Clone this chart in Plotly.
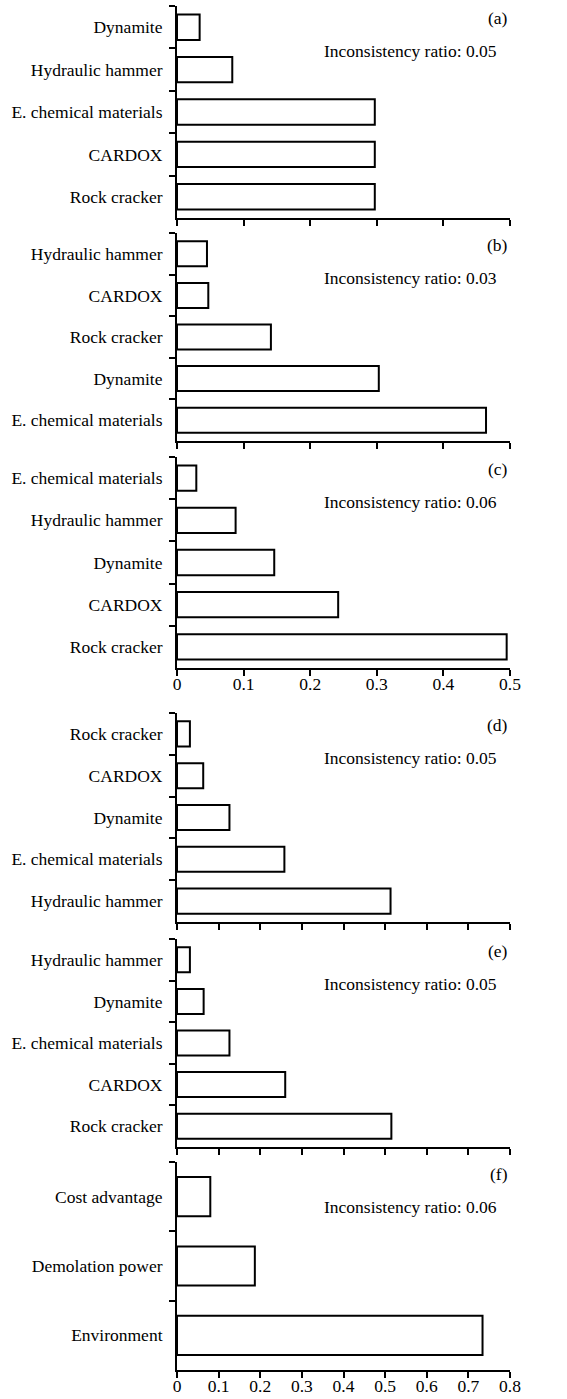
import plotly.graph_objects as go

W, H = 567, 1399

# Panel data (categories listed top-to-bottom as in the figure)
cats_a = ["Dynamite", "Hydraulic hammer", "E. chemical materials", "CARDOX", "Rock cracker"]
vals_a = [0.034, 0.083, 0.297, 0.297, 0.297]

cats_b = ["Hydraulic hammer", "CARDOX", "Rock cracker", "Dynamite", "E. chemical materials"]
vals_b = [0.045, 0.047, 0.141, 0.303, 0.464]

cats_c = ["E. chemical materials", "Hydraulic hammer", "Dynamite", "CARDOX", "Rock cracker"]
vals_c = [0.029, 0.088, 0.146, 0.242, 0.495]

cats_d = ["Rock cracker", "CARDOX", "Dynamite", "E. chemical materials", "Hydraulic hammer"]
vals_d = [0.031, 0.063, 0.126, 0.258, 0.513]

cats_e = ["Hydraulic hammer", "Dynamite", "E. chemical materials", "CARDOX", "Rock cracker"]
vals_e = [0.031, 0.064, 0.126, 0.260, 0.515]

cats_f = ["Cost advantage", "Demolation power", "Environment"]
vals_f = [0.080, 0.187, 0.734]

panel_labels = ["(a)", "(b)", "(c)", "(d)", "(e)", "(f)"]
ratios = ["Inconsistency ratio: 0.05", "Inconsistency ratio: 0.03", "Inconsistency ratio: 0.06",
          "Inconsistency ratio: 0.05", "Inconsistency ratio: 0.05", "Inconsistency ratio: 0.06"]
xmax = [0.5, 0.5, 0.5, 0.8, 0.8, 0.8]
show_xlabels = [False, False, True, False, False, True]

panels = [(cats_a, vals_a), (cats_b, vals_b), (cats_c, vals_c),
          (cats_d, vals_d), (cats_e, vals_e), (cats_f, vals_f)]

# pixel layout of plot areas (top, bottom)
px_rows = [(6, 218), (233, 441), (457, 668), (713, 922), (939, 1147), (1162, 1370)]
x0_px, x1_px = 177, 510

FONT = "Liberation Serif"
FS = 17.5

fig = go.Figure()
layout = dict(
    width=W, height=H,
    margin=dict(l=0, r=0, t=0, b=0),
    paper_bgcolor="white", plot_bgcolor="white",
    showlegend=False,
    font=dict(family=FONT, size=FS, color="black"),
)
annotations = []

for i, ((cats, vals), (top, bot)) in enumerate(zip(panels, px_rows)):
    n = i + 1
    xa = "x" if n == 1 else f"x{n}"
    ya = "y" if n == 1 else f"y{n}"
    width = 0.6 if len(cats) == 5 else 0.565
    fig.add_trace(go.Bar(
        x=vals, y=cats, orientation="h", xaxis=xa, yaxis=ya,
        width=width,
        marker=dict(color="white", line=dict(color="black", width=2)),
        hoverinfo="x+y",
    ))
    xkey = "xaxis" if n == 1 else f"xaxis{n}"
    ykey = "yaxis" if n == 1 else f"yaxis{n}"
    layout[xkey] = dict(
        domain=[x0_px / W, x1_px / W], anchor=ya,
        range=[0, xmax[i]], dtick=0.1, tick0=0,
        showline=True, linecolor="black", linewidth=2,
        ticks="outside", ticklen=6, tickwidth=2, tickcolor="black",
        showgrid=False, zeroline=False,
        showticklabels=show_xlabels[i], ticklabelstandoff=-7,
        tickfont=dict(family=FONT, size=FS, color="black"),
        automargin=False,
    )
    layout[ykey] = dict(
        domain=[1 - bot / H, 1 - top / H], anchor=xa,
        type="category", categoryorder="array", categoryarray=cats,
        range=[len(cats) - 0.5, -0.5],
        showline=True, linecolor="black", linewidth=2,
        ticks="outside", ticklen=6, tickwidth=2, tickcolor="black",
        tickson="boundaries", ticklabelstandoff=9,
        showgrid=False, zeroline=False,
        tickfont=dict(family=FONT, size=FS, color="black"),
        automargin=False,
    )
    annotations.append(dict(
        text=panel_labels[i], xref=f"{xa} domain", yref=f"{ya} domain",
        x=1.0, y=1 - 12 / (bot - top), xanchor="right", yanchor="middle",
        showarrow=False, font=dict(family=FONT, size=FS, color="black"),
    ))
    annotations.append(dict(
        text=ratios[i], xref=f"{xa} domain", yref=f"{ya} domain",
        x=0.70, y=1 - 45 / (bot - top), xanchor="center", yanchor="middle",
        showarrow=False, font=dict(family=FONT, size=FS, color="black"),
    ))

layout["annotations"] = annotations
fig.update_layout(**layout)
fig.write_html("out.html", config={"displayModeBar": False},
               post_script="document.body.style.margin='0px';")
